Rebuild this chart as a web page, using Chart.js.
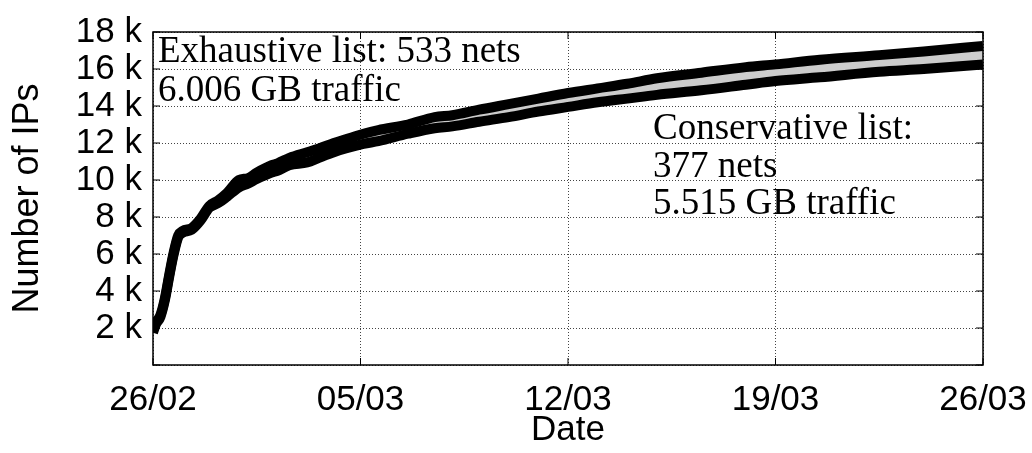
<!DOCTYPE html>
<html>
<head>
<meta charset="utf-8">
<script src="https://cdn.jsdelivr.net/npm/chart.js@4"></script>
<style>
  html, body { margin: 0; padding: 0; background: #fff; }
  #wrap { width: 1032px; height: 453px; }
</style>
</head>
<body>
<div id="wrap"><canvas id="ipChart" width="1032" height="453"></canvas></div>
<script>
// days since 26/02
const days = [0, 0.1, 0.25, 0.4, 0.55, 0.7, 0.85, 1.0, 1.3, 1.6, 1.9, 2.2, 2.5, 2.9, 3.2, 3.5, 4.0, 4.2, 4.6, 5.2, 5.6, 6.1, 6.5, 7.1, 7.6, 8.6, 9.5, 10.1, 11, 12, 13, 14, 15, 16, 17, 18.5, 20, 21, 22.5, 24.5, 26, 28];
const exhaustive = [1850, 2300, 2700, 3600, 4900, 6100, 7000, 7250, 7400, 7900, 8600, 8900, 9300, 10000, 10100, 10400, 10800, 10900, 11200, 11500, 11700, 12000, 12200, 12500, 12700, 13000, 13400, 13500, 13800, 14100, 14400, 14700, 14950, 15200, 15500, 15800, 16100, 16250, 16500, 16750, 16950, 17250];
const conservative = [1750, 2200, 2600, 3500, 4800, 6000, 6900, 7150, 7300, 7800, 8500, 8750, 9100, 9600, 9800, 10050, 10400, 10500, 10800, 10950, 11200, 11500, 11700, 11950, 12100, 12500, 12800, 12900, 13150, 13400, 13700, 13950, 14200, 14400, 14600, 14850, 15150, 15350, 15550, 15850, 16000, 16250];
const dateLabels = ['26/02', '05/03', '12/03', '19/03', '26/03'];
const exhaustiveText = ['Exhaustive list: 533 nets', '6.006 GB traffic'];
const conservativeText = ['Conservative list:', '377 nets', '5.515 GB traffic'];

const toPoints = (ys) => ys.map((y, i) => ({ x: days[i], y: y }));

// frame, inward ticks and the two text blocks
const framePlugin = {
    id: 'frame',
    afterDraw(chart) {
        const ctx = chart.ctx;
        const a = chart.chartArea;
        const xs = chart.scales.x, ys = chart.scales.y;
        ctx.save();
        ctx.strokeStyle = '#000';
        ctx.lineWidth = 1.5;
        ctx.strokeRect(a.left, a.top, a.right - a.left, a.bottom - a.top);
        ctx.lineWidth = 1;
        ctx.beginPath();
        ys.ticks.forEach(t => {
            const py = ys.getPixelForValue(t.value);
            ctx.moveTo(a.left, py); ctx.lineTo(a.left + 7, py);
            ctx.moveTo(a.right, py); ctx.lineTo(a.right - 7, py);
        });
        xs.ticks.forEach(t => {
            const px = xs.getPixelForValue(t.value);
            ctx.moveTo(px, a.bottom); ctx.lineTo(px, a.bottom - 7);
            ctx.moveTo(px, a.top); ctx.lineTo(px, a.top + 7);
        });
        ctx.stroke();

        ctx.fillStyle = '#000';
        ctx.font = '37px "Liberation Serif", "Times New Roman", serif';
        ctx.textBaseline = 'alphabetic';
        ctx.textAlign = 'left';
        exhaustiveText.forEach((s, i) => ctx.fillText(s, a.left + 5, a.top + 30 + i * 39));
        conservativeText.forEach((s, i) => ctx.fillText(s, a.left + 500, a.top + 107 + i * 37.5));
        ctx.restore();
    }
};

const ctx = document.getElementById('ipChart').getContext('2d');
new Chart(ctx, {
    type: 'line',
    data: {
        datasets: [{
            label: 'Exhaustive',
            data: toPoints(exhaustive),
            borderColor: '#000',
            borderWidth: 10,
            pointRadius: 0,
            cubicInterpolationMode: 'monotone',
            borderJoinStyle: 'round',
            fill: false
        }, {
            label: 'Conservative',
            data: toPoints(conservative),
            borderColor: '#000',
            backgroundColor: '#cccccc',
            borderWidth: 10,
            pointRadius: 0,
            cubicInterpolationMode: 'monotone',
            borderJoinStyle: 'round',
            fill: '-1'
        }]
    },
    options: {
        responsive: false,
        animation: false,
        layout: { padding: { top: 23, right: 0, left: 0, bottom: 0 } },
        plugins: {
            legend: { display: false },
            tooltip: { enabled: false },
            filler: { drawTime: 'beforeDatasetsDraw' }
        },
        scales: {
            x: {
                type: 'linear',
                min: 0,
                max: 28,
                afterFit: (s) => { s.height = 88; s.paddingRight = 49; },
                afterBuildTicks: (s) => { s.ticks = [0, 7, 14, 21, 28].map(v => ({ value: v })); },
                ticks: {
                    color: '#000',
                    padding: 14,
                    maxRotation: 0,
                    autoSkip: false,
                    font: { family: '"Liberation Sans", Arial, sans-serif', size: 35 },
                    callback: (v) => dateLabels[Math.round(v / 7)]
                },
                grid: { color: '#444', lineWidth: 1, drawTicks: false },
                border: { display: false, dash: [1, 2] },
                title: {
                    display: true,
                    text: 'Date',
                    color: '#000',
                    padding: { top: 0, bottom: 2 },
                    font: { family: '"Liberation Sans", Arial, sans-serif', size: 35 }
                }
            },
            y: {
                min: 0,
                max: 18000,
                afterFit: (s) => { s.width = 153; },
                ticks: {
                    stepSize: 2000,
                    color: '#000',
                    padding: 11,
                    autoSkip: false,
                    font: { family: '"Liberation Sans", Arial, sans-serif', size: 35 },
                    callback: (v) => v === 0 ? '' : (v / 1000) + ' k'
                },
                grid: { color: '#444', lineWidth: 1, drawTicks: false },
                border: { display: false, dash: [1, 2] },
                title: {
                    display: true,
                    text: 'Number of IPs',
                    color: '#000',
                    padding: { top: 6, bottom: 0 },
                    font: { family: '"Liberation Sans", Arial, sans-serif', size: 36 }
                }
            }
        }
    },
    plugins: [framePlugin]
});
</script>
</body>
</html>
